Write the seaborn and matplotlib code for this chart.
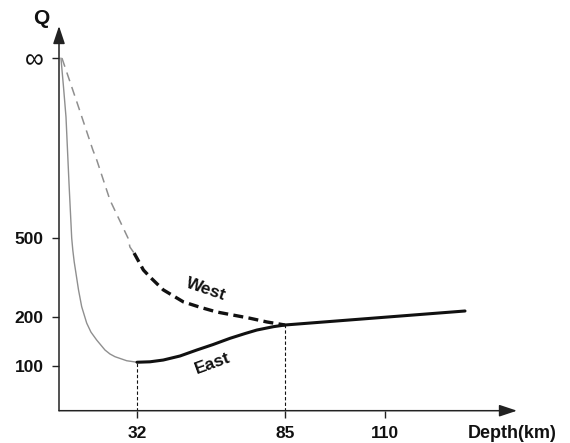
import numpy as np
import matplotlib
matplotlib.use("Agg")
import matplotlib.pyplot as plt
import seaborn as sns

inf = np.inf

# grey extrapolated part of the East curve (depth in km, Q)
east_top_depth = [0.8, 1.23, 1.85, 2.87, 4.10, 5.21, 5.66, 6.24, 6.97, 8.0, 9.31, 11.36,
                  13.1, 15.47, 18.87, 20.9, 22.97, 27.77, 32.0]
east_top_q = [inf, 7500, 3103, 1525, 720, 500, 407, 344, 299, 252, 217, 178,
              153, 136, 119.5, 114, 110.5, 105.7, 104]

# East curve (solid black) incl. common part below 85 km
east_depth = [32.0, 36.66, 41.4, 47.4, 53.4, 59.2, 65.3, 70.7, 74.9, 80.8, 85.0, 130.0]
east_q = [104, 104.5, 106.5, 111.4, 119.5, 128, 139.4, 149.6, 158, 167, 172, 209.6]

# grey extrapolated part of the West curve
west_top_depth = [1.2, 7.6, 13.9, 15.5, 20.9, 28.3, 29.1, 30.8]
west_top_q = [inf, 1957, 978, 882, 634, 500, 427, 389]

# West curve (dashed black)
west_depth = [30.8, 34.3, 36.7, 41.4, 48.6, 54.6, 60.5, 72.5, 78.6, 85.0]
west_q = [389, 311, 287, 252, 226, 216, 208, 195, 181.5, 172]

# ticks
x_ticks = [32, 85, 110]
y_tick_q = [inf, 500, 200, 100]
y_tick_labels = ["\u221e", "500", "200", "100"]

# schematic (non-linear) axis scales
depth_knots = [-50, 0, 32, 85, 110, 300]
depth_scale = [-62.9, 59, 137, 285, 385, 1145]
atten_knots = [-0.01, 0, 0.002, 0.005, 0.01, 0.05]
atten_scale = [-842, 58, 238, 317, 366, 758]


def x_fwd(v):
    return np.interp(v, depth_knots, depth_scale)


def x_inv(p):
    return np.interp(p, depth_scale, depth_knots)


def y_fwd(v):
    return np.interp(v, atten_knots, atten_scale)


def y_inv(p):
    return np.interp(p, atten_scale, atten_knots)


def atten(q):
    return 1.0 / np.asarray(q, dtype=float)


sns.set_theme(style="white")
plt.rcParams["font.family"] = ["Liberation Sans", "DejaVu Sans"]

fig = plt.figure(figsize=(5.7, 4.43), dpi=100)
ax = fig.add_axes([59 / 570, (443 - 410.7) / 443, (517 - 59) / 570, (410.7 - 26) / 443])

grey = "#8f8f8f"
sns.lineplot(x=east_top_depth, y=atten(east_top_q), color=grey, linewidth=1.0,
             estimator=None, sort=False, ax=ax)
sns.lineplot(x=west_top_depth, y=atten(west_top_q), color=grey, linewidth=1.1,
             linestyle=(0, (6, 4)), estimator=None, sort=False, ax=ax)
sns.lineplot(x=east_depth, y=atten(east_q), color="#111111", linewidth=2.2,
             estimator=None, sort=False, ax=ax)
sns.lineplot(x=west_depth, y=atten(west_q), color="#111111", linewidth=2.4,
             linestyle=(0, (3.0, 1.6)), estimator=None, sort=False, ax=ax)

ax.set_xscale("function", functions=(x_fwd, x_inv))
ax.set_yscale("function", functions=(y_fwd, y_inv))
ax.set_xlim(0, 143)
ax.set_ylim(0.01456, -0.000356)

# dashed drop lines at 32 and 85 km
ax.vlines([east_depth[0], east_depth[-2]], 0.01456, atten([east_q[0], east_q[-2]]),
          colors="#111111", linewidth=0.8, linestyles=(0, (3, 2)))

for s in ax.spines.values():
    s.set_visible(False)
arrow = dict(arrowstyle="-|>,head_length=0.6,head_width=0.2", color="#222222",
             lw=1.1, mutation_scale=18, shrinkA=0, shrinkB=0)
ax.annotate("", xy=(1, 0), xytext=(0, 0), xycoords="axes fraction", arrowprops=arrow)
ax.annotate("", xy=(0, 1), xytext=(0, 0), xycoords="axes fraction", arrowprops=arrow)

ax.set_xticks(x_ticks)
ax.set_xticklabels([str(t) for t in x_ticks])
ax.set_yticks(atten(y_tick_q))
ax.set_yticklabels(y_tick_labels)
ax.tick_params(axis="both", which="both", direction="out", length=5, width=1.0,
               color="#222222", labelsize=12.5, labelcolor="#111111", pad=6,
               bottom=True, left=True)
ax.minorticks_off()
for lab in ax.get_xticklabels() + ax.get_yticklabels():
    lab.set_fontweight("bold")
ax.get_yticklabels()[0].set_fontweight("normal")
ax.get_yticklabels()[0].set_fontsize(19)
ax.set_xlabel("")
ax.set_ylabel("")
ax.grid(False)
ax.set_facecolor("none")

ax.text(56.7, atten(252), "West", rotation=-19, fontsize=12.5, fontweight="bold",
        ha="center", va="center", color="#111111")
ax.text(58.9, atten(103), "East", rotation=20, fontsize=12.5, fontweight="bold",
        ha="center", va="center", color="#111111")

fig.text(41 / 570, 1 - 18 / 443, "Q", fontsize=15, fontweight="bold",
         ha="center", va="center", color="#111111")
fig.text(512 / 570, 1 - 434 / 443, "Depth(km)", fontsize=13, fontweight="bold",
         ha="center", va="center", color="#111111")

fig.savefig("out.png", dpi=100)
